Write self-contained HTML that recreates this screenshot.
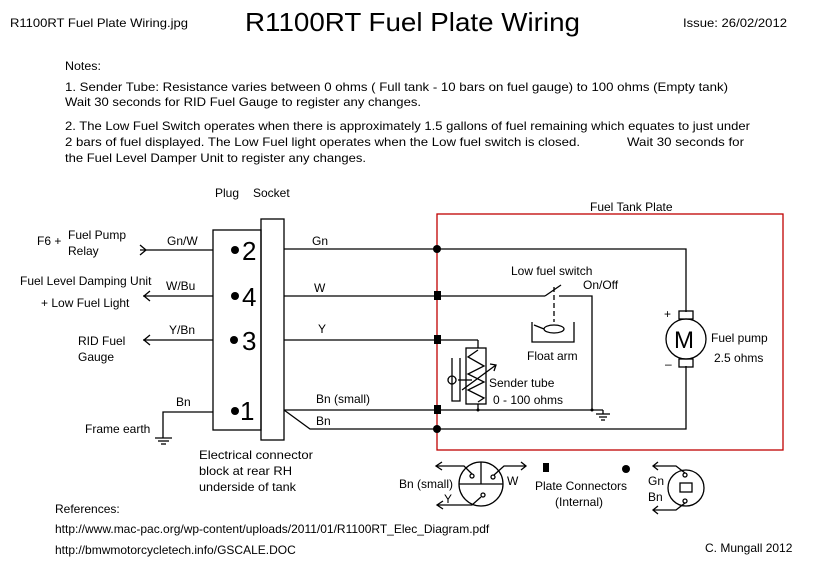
<!DOCTYPE html>
<html><head><meta charset="utf-8"><style>html,body{margin:0;padding:0;background:#fff}svg{display:block}text{font-family:"Liberation Sans",sans-serif;fill:#000}</style></head><body>
<svg width="824" height="572" viewBox="0 0 824 572" xmlns="http://www.w3.org/2000/svg">
<g font-size="12">
<text x="10" y="27" textLength="178" lengthAdjust="spacingAndGlyphs">R1100RT Fuel Plate Wiring.jpg</text>
<text x="683" y="27" textLength="104" lengthAdjust="spacingAndGlyphs">Issue: 26/02/2012</text>
<text x="65" y="70" textLength="36" lengthAdjust="spacingAndGlyphs">Notes:</text>
<text x="65" y="91" textLength="663" lengthAdjust="spacingAndGlyphs">1. Sender Tube: Resistance varies between 0 ohms ( Full tank - 10 bars on fuel gauge) to 100 ohms  (Empty tank)</text>
<text x="65" y="106" textLength="356" lengthAdjust="spacingAndGlyphs">Wait 30 seconds for RID Fuel Gauge to register any changes.</text>
<text x="65" y="130" textLength="685" lengthAdjust="spacingAndGlyphs">2. The Low Fuel Switch operates when there is approximately 1.5 gallons of fuel remaining which equates to just under</text>
<text x="65" y="146" textLength="515" lengthAdjust="spacingAndGlyphs">2 bars of fuel displayed.  The Low Fuel light operates when the Low fuel switch is closed.</text>
<text x="627" y="146" textLength="117" lengthAdjust="spacingAndGlyphs">Wait 30 seconds for</text>
<text x="65" y="162" textLength="301" lengthAdjust="spacingAndGlyphs">the Fuel Level Damper Unit to register any changes.</text>
</g>
<text x="245" y="31" font-size="26" textLength="335" lengthAdjust="spacingAndGlyphs">R1100RT Fuel Plate Wiring</text>

<g fill="none" stroke="#000" stroke-width="1.3">
<rect x="437" y="214" width="346" height="236" stroke="#c00000"/>
<rect x="213" y="230" width="48" height="200"/>
<rect x="261" y="219" width="23" height="221"/>
<line x1="140" y1="250" x2="213" y2="250"/>
<polyline points="140,245 146,250 140,255"/>
<line x1="143" y1="296" x2="213" y2="296"/>
<polyline points="150,291 144,296 150,301"/>
<line x1="143" y1="340" x2="213" y2="340"/>
<polyline points="150,335 144,340 150,345"/>
<polyline points="213,412 163,412 163,438"/>
<line x1="155" y1="438" x2="172" y2="438"/><line x1="158" y1="441" x2="169" y2="441"/><line x1="161" y1="444" x2="166" y2="444"/>
<polyline points="284,249 686,249 686,312"/>
<polyline points="686,366 686,429 310,429 284,410"/>
<line x1="284" y1="296" x2="545" y2="296"/>
<line x1="545" y1="296" x2="561" y2="285"/>
<polyline points="559,296 592,296 592,410"/>
<line x1="284" y1="340" x2="478" y2="340"/>
<line x1="478" y1="340" x2="478" y2="348"/>
<line x1="284" y1="410" x2="603" y2="410"/>
<line x1="478" y1="404" x2="478" y2="410"/>
<line x1="596" y1="414" x2="610" y2="414"/><line x1="599" y1="417" x2="607" y2="417"/><line x1="601" y1="420" x2="605" y2="420"/>
<line x1="603" y1="410" x2="603" y2="414"/>
<rect x="466" y="348" width="20" height="56"/>
<polyline points="478,350 468,357 484,366 468,374 484,382 468,390 484,398 478,402"/>
<line x1="458" y1="380" x2="472" y2="380"/>
<line x1="462" y1="390" x2="496" y2="365"/>
<polyline points="490,364 496,365 494,371"/>
<polyline points="452,358 452,401 460,401 460,358"/>
<circle cx="452" cy="380" r="4"/>
<line x1="554" y1="287" x2="554" y2="322" stroke-dasharray="5,3"/>
<polyline points="532,322 532,342 574,342 574,322"/>
<ellipse cx="554" cy="329" rx="10" ry="4"/>
<line x1="534" y1="325" x2="544" y2="329"/>
<circle cx="686" cy="339" r="20"/>
<rect x="679" y="311" width="14" height="8"/>
<rect x="679" y="359" width="14" height="8"/>
<circle cx="481" cy="484" r="22"/>
<line x1="459" y1="484" x2="503" y2="484"/><line x1="481" y1="462" x2="481" y2="484"/>
<circle cx="472" cy="476" r="2"/><circle cx="493" cy="477" r="2"/><circle cx="483" cy="495" r="2"/>
<polyline points="472,474 464,466 436,466"/><polyline points="442,462 436,466 442,470"/>
<polyline points="494,475 504,466 526,466"/><polyline points="521,462 526,466 521,470"/>
<polyline points="481,497 472,505 438,505"/><polyline points="443,501 437,505 443,509"/>
<circle cx="686" cy="488" r="18"/>
<rect x="680" y="483" width="12" height="9"/>
<circle cx="685" cy="475" r="2"/><circle cx="685" cy="501" r="2"/>
<polyline points="685,473 676,466 653,466"/><polyline points="658,462 653,466 658,470"/>
<polyline points="685,503 676,510 653,510"/><polyline points="658,506 653,510 658,514"/>
</g>
<g fill="#000">
<circle cx="235" cy="250" r="4"/><circle cx="235" cy="296" r="4"/><circle cx="234" cy="340" r="4"/><circle cx="235" cy="411" r="4"/>
<circle cx="437" cy="249" r="4"/><circle cx="437" cy="429" r="4"/>
<rect x="434" y="291" width="7" height="9"/><rect x="434" y="335" width="7" height="9"/><rect x="434" y="405" width="7" height="9"/>
<circle cx="478" cy="410" r="1.5"/><circle cx="592" cy="410" r="1.5"/>
<rect x="543" y="463" width="6" height="9"/><circle cx="626" cy="469" r="4"/>
</g>
<g font-size="12">
<text x="215" y="197">Plug</text><text x="253" y="197">Socket</text>
<text x="37" y="245">F6 +</text><text x="68" y="239">Fuel Pump</text><text x="68" y="255">Relay</text>
<text x="167" y="245">Gn/W</text>
<text x="20" y="285">Fuel Level Damping Unit</text><text x="166" y="290">W/Bu</text>
<text x="41" y="307">+ Low Fuel Light</text>
<text x="169" y="334">Y/Bn</text>
<text x="78" y="345">RID Fuel</text><text x="78" y="361">Gauge</text>
<text x="176" y="406">Bn</text>
<text x="85" y="433">Frame earth</text>
<text x="312" y="245">Gn</text><text x="314" y="292">W</text><text x="318" y="333">Y</text>
<text x="316" y="403">Bn (small)</text><text x="316" y="425">Bn</text>
<text x="199" y="459" textLength="114" lengthAdjust="spacingAndGlyphs">Electrical connector</text><text x="199" y="475" textLength="93" lengthAdjust="spacingAndGlyphs">block at rear RH</text><text x="199" y="491" textLength="97" lengthAdjust="spacingAndGlyphs">underside of tank</text>
<text x="590" y="211">Fuel Tank  Plate</text>
<text x="511" y="275">Low fuel switch</text><text x="583" y="289">On/Off</text>
<text x="527" y="360">Float arm</text>
<text x="489" y="387">Sender tube</text><text x="493" y="404">0 - 100 ohms</text>
<text x="664" y="318">+</text><text x="665" y="368">–</text>
<text x="711" y="342">Fuel pump</text><text x="714" y="362">2.5 ohms</text>
<text x="399" y="488">Bn (small)</text><text x="444" y="503">Y</text><text x="507" y="485">W</text>
<text x="535" y="490">Plate Connectors</text><text x="555" y="506">(Internal)</text>
<text x="648" y="485">Gn</text><text x="648" y="501">Bn</text>
<text x="55" y="513">References:</text>
<text x="55" y="533">http://www.mac-pac.org/wp-content/uploads/2011/01/R1100RT_Elec_Diagram.pdf</text>
<text x="55" y="554">http://bmwmotorcycletech.info/GSCALE.DOC</text>
<text x="705" y="552">C. Mungall 2012</text>
</g>
<text x="242" y="260" font-size="26">2</text>
<text x="242" y="306" font-size="26">4</text>
<text x="242" y="350" font-size="26">3</text>
<text x="240" y="420" font-size="26">1</text>
<text x="674" y="348" font-size="24">M</text>
</svg>
</body></html>
